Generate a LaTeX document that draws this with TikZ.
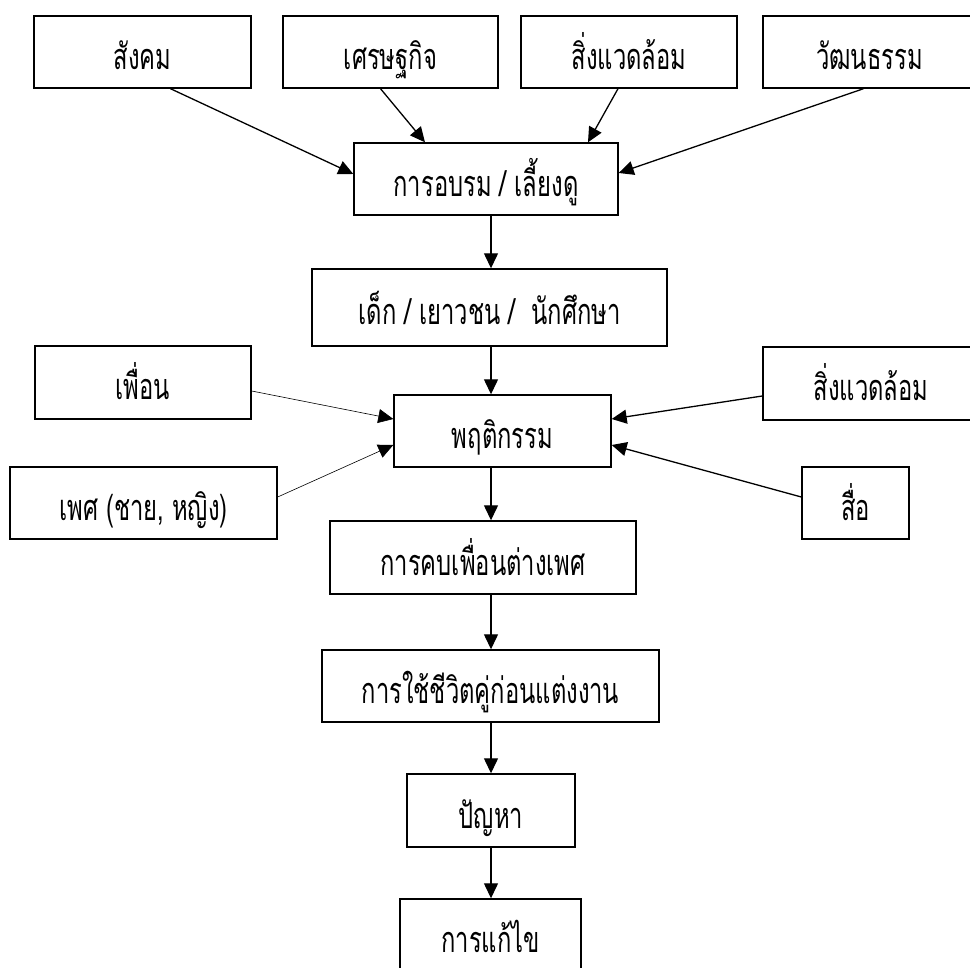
\documentclass[tikz,border=0pt]{standalone}
\usepackage{fontspec}
\newfontfamily\thaifont[Script=Thai,FakeStretch=0.66]{Loma}
\usetikzlibrary{arrows.meta,calc}

\tikzset{
  box/.style={draw, line width=1.4pt, minimum height=72pt, inner sep=0pt,
    text height=38pt, text depth=3pt,
    font=\thaifont\fontsize{36}{40}\selectfont},
  link/.style={-{Triangle[length=15pt,width=14pt]}, line width=1.3pt},
  thinlink/.style={-{Triangle[length=15pt,width=14pt]}, line width=0.6pt},
}

\begin{document}
\begin{tikzpicture}[x=1pt,y=-1pt]
    \useasboundingbox (0,0) rectangle (970,968);

    % top row
    \node[box, minimum width=217pt] (soc) at (142.5,52) {สังคม};
    \node[box, minimum width=215pt] (econ) at (390.5,52) {เศรษฐกิจ};
    \node[box, minimum width=216pt] (env) at (629,52) {สิ่งแวดล้อม};
    \node[box, minimum width=213pt] (cult) at (869.5,52) {วัฒนธรรม};

    % main column
    \node[box, minimum width=264pt] (rear) at (486,179) {การอบรม / เลี้ยงดู};
    \node[box, minimum width=355pt, minimum height=77pt] (youth) at (489.5,307.5) {เด็ก / เยาวชน /\ \ นักศึกษา};
    \node[box, minimum width=217pt] (behav) at (502.5,431) {พฤติกรรม};
    \node[box, minimum width=306pt, minimum height=73pt] (dating) at (483,557.5) {การคบเพื่อนต่างเพศ};
    \node[box, minimum width=337pt] (cohab) at (490.5,686) {การใช้ชีวิตคู่ก่อนแต่งงาน};
    \node[box, minimum width=168pt, minimum height=73pt] (prob) at (491,810.5) {ปัญหา};
    \node[box, minimum width=181pt] (solve) at (490.5,935) {การแก้ไข};

    % side factors
    \node[box, minimum width=216pt, minimum height=73pt] (friend) at (143,382.5) {เพื่อน};
    \node[box, minimum width=267pt] (sex) at (143.5,503) {เพศ (ชาย, หญิง)};
    \node[box, minimum width=216pt, minimum height=73pt] (envr) at (871,383.5) {สิ่งแวดล้อม};
    \node[box, minimum width=107pt] (media) at (855.5,503) {สื่อ};

    \coordinate (axis) at (491,0);

    \draw[link] ([xshift=28pt]soc.south) -- ([yshift=5pt]rear.west);
    \draw[link] ([xshift=-10pt]econ.south) -- ([xshift=-61pt]rear.north);
    \draw[link] ([xshift=-11pt]env.south) -- ([xshift=102pt]rear.north);
    \draw[link] ([xshift=-6pt]cult.south) -- ([yshift=6pt]rear.east);

    \draw[link] (rear.south -| axis) -- (youth.north -| axis);
    \draw[link] (youth.south -| axis) -- (behav.north -| axis);
    \draw[link] (behav.south -| axis) -- (dating.north -| axis);
    \draw[link] (dating.south -| axis) -- (cohab.north -| axis);
    \draw[link] (cohab.south -| axis) -- (prob.north -| axis);
    \draw[link] (prob.south -| axis) -- (solve.north -| axis);

    \draw[thinlink] ([yshift=-8.5pt]friend.east) -- ([yshift=12pt]behav.west);
    \draw[thinlink] ([yshift=6pt]sex.east) -- ([yshift=-14pt]behav.west);
    \draw[link] ([yshift=-12.5pt]envr.west) -- ([yshift=12pt]behav.east);
    \draw[link] ([yshift=6pt]media.west) -- ([yshift=-14pt]behav.east);
\end{tikzpicture}
\end{document}
